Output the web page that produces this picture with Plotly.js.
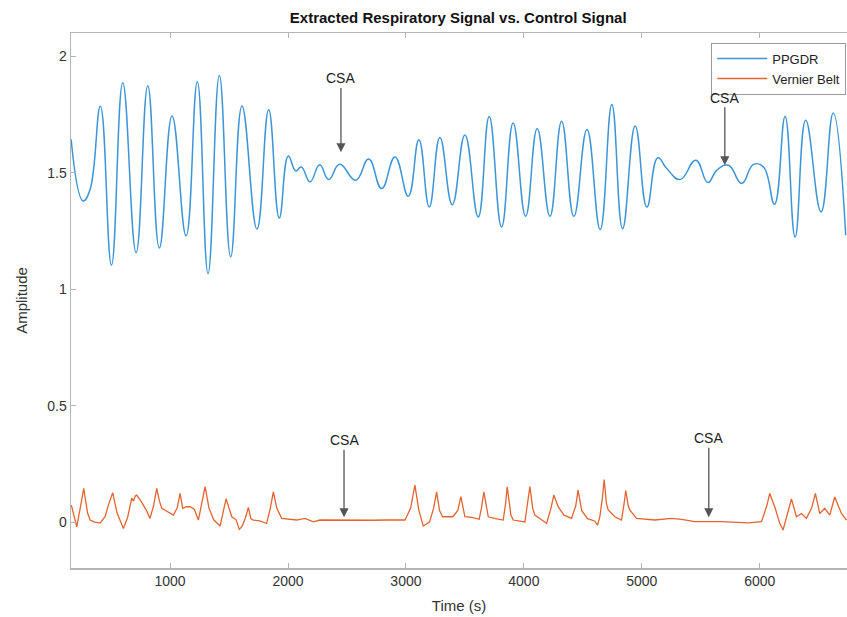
<!DOCTYPE html>
<html>
<head>
<meta charset="utf-8">
<script src="https://cdn.plot.ly/plotly-3.0.1.min.js"></script>
<style>
  html, body { margin: 0; padding: 0; background: #ffffff; }
  #chart { width: 847px; height: 617px; }
</style>
</head>
<body>
<div id="chart"></div>
<script>
// ---- Data ----
const ppgTime = [161,263,320,409,503,599,712,811,909,1017,1136,1231,1322,1418,1514,1610,1737,1836,1926,2003,2065,2113,2187,2269,2345,2438,2574,2684,2794,2907,3020,3110,3198,3288,3393,3500,3613,3706,3811,3909,4015,4113,4221,4320,4424,4535,4647,4746,4837,4944,5043,5136,5212,5325,5458,5560,5636,5735,5847,5947,6032,6125,6215,6300,6390,6520,6623,6729];
const ppgAmp = [1.644,1.379,1.425,1.785,1.103,1.886,1.157,1.874,1.177,1.744,1.229,1.891,1.067,1.918,1.139,1.787,1.258,1.771,1.306,1.572,1.508,1.525,1.461,1.534,1.471,1.536,1.468,1.559,1.432,1.568,1.399,1.642,1.353,1.651,1.363,1.662,1.310,1.742,1.267,1.714,1.313,1.690,1.313,1.721,1.313,1.686,1.256,1.793,1.260,1.701,1.353,1.564,1.518,1.471,1.554,1.458,1.511,1.532,1.454,1.536,1.525,1.365,1.742,1.224,1.725,1.332,1.757,1.232];

const beltTime = [163,209,238,268,300,322,360,407,449,478,514,550,604,640,675,690,705,718,760,800,830,860,887,910,930,980,1028,1060,1085,1107,1140,1170,1205,1240,1270,1297,1330,1370,1424,1450,1475,1500,1523,1560,1587,1612,1640,1664,1685,1706,1760,1819,1850,1876,1905,1946,2000,2073,2144,2215,2271,2400,2550,2700,2850,2992,3040,3076,3110,3147,3200,3235,3260,3285,3311,3398,3440,3466,3500,3560,3621,3640,3661,3698,3760,3825,3845,3859,3890,3910,4009,4030,4051,4075,4093,4150,4193,4230,4254,4291,4340,4404,4440,4460,4490,4540,4600,4625,4644,4665,4681,4700,4715,4771,4828,4850,4864,4885,4898,4955,5110,5252,5337,5449,5675,5901,6015,6060,6085,6127,6170,6198,6230,6269,6311,6354,6396,6440,6472,6509,6551,6594,6636,6693,6736];
const beltAmp = [0.073,-0.020,0.060,0.145,0.040,0.009,0.000,-0.004,0.023,0.075,0.126,0.040,-0.027,0.020,0.103,0.090,0.112,0.116,0.085,0.050,0.016,0.070,0.145,0.090,0.059,0.045,0.030,0.060,0.123,0.059,0.066,0.066,0.055,0.009,0.080,0.152,0.060,0.010,-0.017,0.040,0.100,0.060,0.023,0.010,-0.031,-0.017,0.020,0.063,0.015,0.009,0.005,-0.006,0.060,0.130,0.060,0.016,0.012,0.009,0.016,0.001,0.009,0.008,0.009,0.008,0.009,0.009,0.060,0.159,0.050,-0.017,0.000,0.060,0.130,0.050,0.023,0.023,0.050,0.109,0.023,0.020,0.012,0.060,0.130,0.023,0.015,0.009,0.080,0.152,0.030,0.009,0.001,0.080,0.152,0.060,0.030,0.010,-0.006,0.060,0.116,0.066,0.030,0.016,0.070,0.137,0.050,0.015,0.005,-0.013,0.023,0.100,0.183,0.080,0.052,0.023,0.009,0.080,0.135,0.070,0.052,0.016,0.009,0.016,0.012,0.002,0.002,-0.003,0.002,0.070,0.123,0.066,-0.006,-0.034,0.030,0.100,0.023,0.037,0.016,0.060,0.123,0.037,0.059,0.030,0.108,0.037,0.009];

const seriesNames = ["PPGDR", "Vernier Belt"];
const xTicks = [1000, 2000, 3000, 4000, 5000, 6000];
const yTicks = [0, 0.5, 1, 1.5, 2];
const yTickText = ["0", "0.5", "1", "1.5", "2"];

// CSA markers: arrow tip (x, y) and label position (y)
const csaX = [2449, 5704, 2475, 5568];
const csaTipY = [1.588, 1.532, 0.021, 0.021];
const csaLabelY = [1.905, 1.822, 0.352, 0.36];

const FONT = "Liberation Sans, Arial, Helvetica, sans-serif";

const traces = [
  {
    x: ppgTime, y: ppgAmp, type: "scatter", mode: "lines", name: seriesNames[0],
    line: { color: "#3d95d6", width: 1.5, shape: "spline", smoothing: 1.3 }
  },
  {
    x: beltTime, y: beltAmp, type: "scatter", mode: "lines", name: seriesNames[1],
    line: { color: "#e2642f", width: 1.3 }
  }
];

const annotations = csaX.map((x, i) => ({
  x: x, y: csaTipY[i], xref: "x", yref: "y",
  ax: x, ay: csaLabelY[i], axref: "x", ayref: "y",
  text: "CSA", showarrow: true, arrowhead: 2, arrowsize: 1.4, arrowwidth: 1.3,
  arrowcolor: "#555555", standoff: 0,
  font: { family: FONT, size: 14, color: "#222222" }
}));

const layout = {
  width: 847, height: 617,
  margin: { l: 71, r: 0, t: 33, b: 49 },
  paper_bgcolor: "#ffffff", plot_bgcolor: "#ffffff",
  font: { family: FONT, size: 14, color: "#333333" },
  title: {
    text: "<b>Extracted Respiratory Signal vs. Control Signal</b>",
    font: { family: FONT, size: 15, color: "#111111" },
    x: 0.541, xanchor: "center", y: 0.971, yanchor: "middle"
  },
  xaxis: {
    range: [160, 6740], tickvals: xTicks, ticktext: xTicks.map(String),
    showgrid: false, zeroline: false,
    showline: true, linecolor: "#b5b5b5", linewidth: 1.5, mirror: "ticks",
    ticks: "inside", ticklen: 5, tickcolor: "#b5b5b5", tickwidth: 1,
    tickfont: { family: FONT, size: 14, color: "#333333" },
    title: { text: "Time (s)", font: { family: FONT, size: 15, color: "#333333" }, standoff: 12 }
  },
  yaxis: {
    range: [-0.197, 2.1], tickvals: yTicks, ticktext: yTickText,
    showgrid: false, zeroline: false,
    showline: true, linecolor: "#b5b5b5", linewidth: 1.5,
    ticks: "inside", ticklen: 5, tickcolor: "#b5b5b5", tickwidth: 1,
    tickfont: { family: FONT, size: 14, color: "#333333" },
    title: { text: "Amplitude", font: { family: FONT, size: 15, color: "#333333" }, standoff: 16 }
  },
  showlegend: true,
  legend: {
    x: 0.999, xanchor: "right", y: 0.982, yanchor: "top",
    bgcolor: "#ffffff", bordercolor: "#9a9a9a", borderwidth: 1,
    font: { family: FONT, size: 13, color: "#222222" },
    tracegroupgap: 0, itemwidth: 50
  },
  annotations: annotations
};

Plotly.newPlot("chart", traces, layout, { displayModeBar: false, staticPlot: true });
</script>
</body>
</html>
